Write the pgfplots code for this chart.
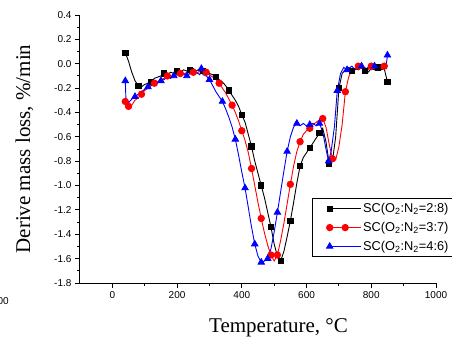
\documentclass[border=0pt]{standalone}
\usepackage{pgfplots}
\pgfplotsset{compat=1.18}
\usepackage{fontspec}
\setmainfont{Liberation Sans}
\newfontfamily\timesfont{Liberation Serif}
\pgfplotstableread{
x y
40 0.09
50 0.02
60 -0.07
70 -0.14
80 -0.18
90 -0.19
100 -0.17
110 -0.16
120 -0.15
130 -0.12
140 -0.11
150 -0.10
160 -0.08
170 -0.09
180 -0.07
190 -0.08
200 -0.06
210 -0.07
220 -0.05
230 -0.06
240 -0.05
250 -0.04
260 -0.06
270 -0.04
280 -0.06
290 -0.06
300 -0.08
310 -0.09
320 -0.11
330 -0.13
340 -0.15
350 -0.18
360 -0.22
370 -0.26
380 -0.30
390 -0.35
400 -0.42
410 -0.48
420 -0.58
430 -0.68
440 -0.80
450 -0.90
460 -1.00
470 -1.10
480 -1.22
490 -1.34
500 -1.48
510 -1.58
520 -1.62
530 -1.54
540 -1.42
550 -1.29
560 -1.14
570 -0.98
580 -0.84
590 -0.77
600 -0.73
610 -0.69
620 -0.65
630 -0.61
640 -0.57
650 -0.53
660 -0.64
670 -0.82
680 -0.80
690 -0.60
700 -0.20
710 -0.08
720 -0.05
730 -0.03
740 -0.06
750 -0.04
760 -0.05
770 -0.03
780 -0.06
790 -0.07
800 -0.04
810 -0.05
820 -0.03
830 -0.05
840 -0.04
850 -0.15
}\blackdata
\pgfplotstableread{
x y
40 -0.31
50 -0.35
60 -0.34
70 -0.30
80 -0.28
90 -0.25
100 -0.22
110 -0.20
120 -0.18
130 -0.16
140 -0.15
150 -0.13
160 -0.12
170 -0.10
180 -0.11
190 -0.09
200 -0.09
210 -0.08
220 -0.09
230 -0.07
240 -0.08
250 -0.07
260 -0.08
270 -0.06
280 -0.06
290 -0.07
300 -0.09
310 -0.11
320 -0.13
330 -0.16
340 -0.20
350 -0.24
360 -0.29
370 -0.34
380 -0.40
390 -0.47
400 -0.55
410 -0.63
420 -0.73
430 -0.86
440 -1.00
450 -1.14
460 -1.27
470 -1.39
480 -1.49
490 -1.57
500 -1.62
510 -1.57
520 -1.45
530 -1.31
540 -1.15
550 -0.99
560 -0.84
570 -0.72
580 -0.64
590 -0.58
600 -0.55
610 -0.53
620 -0.50
630 -0.48
640 -0.46
650 -0.45
660 -0.52
670 -0.66
680 -0.78
690 -0.79
700 -0.68
710 -0.50
720 -0.23
730 -0.11
740 -0.05
750 -0.04
760 -0.02
770 -0.04
780 -0.03
790 -0.05
800 -0.02
810 -0.04
820 -0.03
830 -0.04
840 -0.02
850 -0.01
}\reddata
\pgfplotstableread{
x y
40 -0.14
42 -0.30
50 -0.32
60 -0.29
70 -0.27
80 -0.25
90 -0.23
100 -0.21
110 -0.19
120 -0.18
130 -0.17
140 -0.15
150 -0.14
160 -0.13
170 -0.11
180 -0.12
190 -0.10
200 -0.09
210 -0.10
220 -0.08
230 -0.10
240 -0.08
250 -0.09
260 -0.07
270 -0.09
275 -0.04
280 -0.09
290 -0.10
300 -0.13
310 -0.18
320 -0.23
330 -0.27
340 -0.31
350 -0.37
360 -0.44
370 -0.52
380 -0.62
390 -0.75
400 -0.89
410 -1.02
420 -1.18
430 -1.34
440 -1.48
450 -1.58
460 -1.63
470 -1.62
480 -1.60
490 -1.52
500 -1.38
510 -1.22
520 -1.05
530 -0.88
540 -0.72
550 -0.60
560 -0.52
570 -0.49
580 -0.51
590 -0.49
600 -0.51
610 -0.50
620 -0.49
630 -0.51
640 -0.49
650 -0.56
660 -0.70
668 -0.80
676 -0.72
686 -0.52
695 -0.22
705 -0.08
715 -0.03
725 -0.05
740 -0.02
750 -0.05
760 -0.03
770 -0.02
780 -0.05
790 -0.03
800 -0.05
810 -0.02
820 -0.04
830 -0.03
845 -0.04
850 0.07
}\bluedata
\begin{document}
\begin{tikzpicture}
\clip (-80pt,-55pt) rectangle (372pt,283pt);
\begin{axis}[
  at={(0pt,0pt)}, anchor=south west,
  scale only axis, width=356pt, height=268pt,
  xmin=-100, xmax=1000, ymin=-1.8, ymax=0.4,
  axis x line=bottom, axis y line=left,
  axis line style={-, line width=1pt},
  xtick={0,200,...,1000}, minor xtick={100,300,...,900},
  ytick distance=0.2, minor y tick num=1,
  tick align=outside,
  major tick length=5pt, minor tick length=3pt,
  every tick/.style={black, line width=1pt},
  /pgf/number format/assume math mode=true,
  /pgf/number format/1000 sep={},
  tick label style={font=\fontsize{10}{12}\selectfont},
  yticklabel style={/pgf/number format/fixed, /pgf/number format/fixed zerofill, /pgf/number format/precision=1},
  xlabel={Temperature, °C},
  ylabel={Derive mass loss, \%/min},
  xlabel style={font=\timesfont\fontsize{21}{24}\selectfont, at={(axis description cs:0.5576,-0.183)}, anchor=base},
  ylabel style={font=\timesfont\fontsize{21}{24}\selectfont, at={(axis description cs:-0.1404,0.5)}, anchor=base},
  legend style={at={(axis description cs:0.652,0.317)}, anchor=north west, draw=black, line width=0.8pt,
    font=\fontsize{12.8}{15}\selectfont, inner xsep=14pt, inner ysep=3pt, row sep=4pt},
  legend cell align=left,
  legend image code/.code={\draw[mark repeat=2,mark phase=2,#1] plot coordinates {(0pt,0pt) (15.5pt,0pt) (31pt,0pt)};},
]
\addplot[black, line width=0.9pt, mark=square*, mark size=2.7pt, mark options={solid},
  mark indices={1,5,9,13,17,21,25,29,33,37,40,43,46,49,52,55,58,61,64,67,71,75,79,82}] table[x=x,y=y] {\blackdata};
\addlegendentry{SC(O\textsubscript{2}:N\textsubscript{2}=2:8)}
\addplot[red, line width=0.9pt, mark=*, mark size=3.2pt, mark options={solid},
  mark indices={1,2,6,10,14,18,22,26,30,34,37,40,43,46,48,52,55,58,62,65,69,73,77,81}] table[x=x,y=y] {\reddata};
\addlegendentry{SC(O\textsubscript{2}:N\textsubscript{2}=3:7)}
\addplot[blue, line width=0.9pt, mark=triangle*, mark size=3.6pt, mark options={solid},
  mark indices={1,5,9,13,17,21,26,29,33,37,40,43,45,47,50,53,56,60,63,66,69,72,76,80,84}] table[x=x,y=y] {\bluedata};
\addlegendentry{SC(O\textsubscript{2}:N\textsubscript{2}=4:6)}
\end{axis}
\node[anchor=east, font=\fontsize{10}{12}\selectfont, inner sep=0pt] at (-71pt,-18pt) {00};
\end{tikzpicture}
\end{document}
